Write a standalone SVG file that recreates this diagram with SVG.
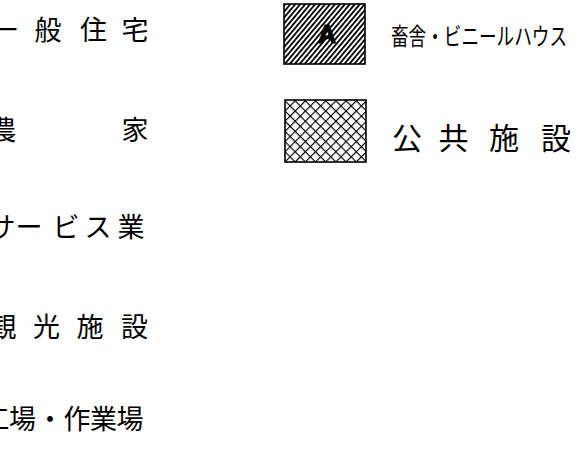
<svg xmlns="http://www.w3.org/2000/svg" width="586" height="449" viewBox="0 0 586 449">
<style>
.lbl{font-family:"Noto Sans CJK JP","Noto Sans CJK SC",sans-serif;fill:#000;}
.left{font-size:27px;text-anchor:middle;}
.box{stroke:#000;stroke-width:1.6;}
</style>
<defs>
<pattern id="diag" patternUnits="userSpaceOnUse" width="3.8" height="3.8" patternTransform="rotate(40)">
<line x1="0.9" y1="-1" x2="0.9" y2="5" stroke="#000" stroke-width="1.8"/>
</pattern>
<pattern id="cross" patternUnits="userSpaceOnUse" width="7.2" height="7.2" patternTransform="translate(285,100) rotate(45)">
<line x1="0" y1="-1" x2="0" y2="9" stroke="#000" stroke-width="2.3"/>
<line x1="-1" y1="0" x2="9" y2="0" stroke="#000" stroke-width="2.3"/>
</pattern>
</defs>
<rect width="586" height="449" fill="#fff"/>
<g id="left-legend">
<g id="ippan-jutaku"><text class="lbl left" x="4 48 93.5 135" y="40">一般住宅</text></g>
<g id="nouka"><text class="lbl left" x="3 135" y="140">農家</text></g>
<g id="service"><text class="lbl left" x="2 29 66 98 131" y="237">サービス業</text></g>
<g id="kanko"><text class="lbl left" x="3 46.5 90 134.5" y="337">観光施設</text></g>
<g id="kojo"><text class="lbl left" x="-4 22.5 50 77 103.5 130" y="429">工場・作業場</text></g>
</g>
<g id="chikusha">
<rect class="box" x="284" y="4" width="81" height="60" fill="url(#diag)"/>
<text x="327" y="43" font-family="Liberation Sans, sans-serif" font-weight="bold" font-size="25" text-anchor="middle" fill="#000" stroke="#000" stroke-width="1">A</text>
<text class="lbl" x="391" y="45" font-size="24" textLength="176" lengthAdjust="spacingAndGlyphs">畜舎・ビニールハウス</text>
</g>
<g id="kokyo">
<rect class="box" x="285" y="100" width="81" height="62" fill="url(#cross)"/>
<text class="lbl" x="407 453.5 504 556" y="149" font-size="30" text-anchor="middle">公共施設</text>
</g>
<g id="connectors"></g>
</svg>
